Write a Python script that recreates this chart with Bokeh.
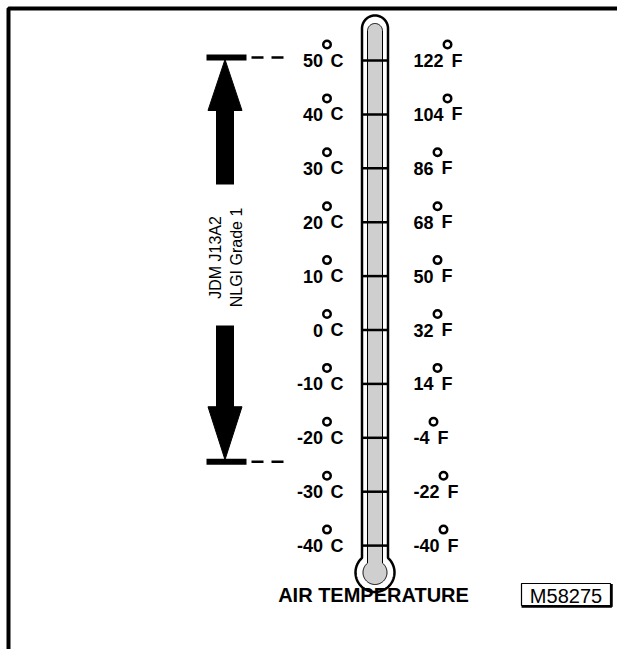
import numpy as np
from bokeh.plotting import figure
from bokeh.models import Range1d
from bokeh.core.properties import value
from bokeh.embed import file_html
from bokeh.resources import INLINE

# ---------------- data ----------------
celsius = [50, 40, 30, 20, 10, 0, -10, -20, -30, -40]
c_labels = ["50", "40", "30", "20", "10", "0", "-10", "-20", "-30", "-40"]
f_labels = ["122", "104", "86", "68", "50", "32", "14", "-4", "-22", "-40"]
range_top = 50      # grease usable range, upper limit (°C)
range_bottom = -25  # grease usable range, lower limit (°C)
grease_lines = ["JDM J13A2", "NLGI Grade 1"]
title_text = "AIR TEMPERATURE"
ref_code = "M58275"

# ---------------- layout helpers (figure px <-> °C) ----------------
S = 5.39      # px per degree C
Y50 = 60.0    # figure y of 50 °C
W, H = 617, 649


def c_at(py):
    return 50 - (py - Y50) / S


def dpx(px):
    return px / S


def py_of(c):
    return Y50 + (50 - c) * S


LABEL_FONT = value("Liberation Sans")
LFS = 18
SANS = value("Liberation Sans")

p = figure(width=W, height=H, x_range=Range1d(0, W),
           y_range=Range1d(c_at(H), c_at(0)),
           output_backend="svg", toolbar_location=None, min_border=0)
p.axis.visible = False
p.xgrid.visible = False
p.ygrid.visible = False
p.outline_line_color = None
p.background_fill_color = "white"
p.border_fill_color = "white"

# frame (top and left)
p.line(x=[8, 8, W], y=[c_at(H), c_at(8), c_at(8)],
       line_width=4, line_color="black")


# ---------------- thermometer ----------------
def therm_path(xc, hw, top_py, bulb_cy, r):
    cap_cy = top_py + hw
    dy = np.sqrt(r ** 2 - hw ** 2)
    join_py = bulb_cy - dy
    xs = [xc - hw, xc - hw]
    ys = [join_py, cap_cy]
    t = np.linspace(np.pi, 0, 40)
    xs += list(xc + hw * np.cos(t))
    ys += list(cap_cy - hw * np.sin(t))
    xs += [xc + hw]
    ys += [join_py]
    a_r = np.arctan2(-dy, hw)
    a_l = np.pi - a_r
    t2 = np.linspace(a_r, a_l, 80)
    xs += list(xc + r * np.cos(t2))
    ys += list(bulb_cy + r * np.sin(t2))
    return xs, [c_at(v) for v in ys]


XC = 374.5
ox, oy = therm_path(XC, 13, 15, 572, 19.5)
p.patch(ox, oy, fill_color="white", line_color="black", line_width=2.5)
ix, iy = therm_path(XC, 7.5, 23, 572, 12)
p.patch(ix, iy, fill_color="#cfcfcf", line_color="black", line_width=1)

# scale ticks across tube
p.segment(x0=[XC - 13] * len(celsius), x1=[XC + 13] * len(celsius),
          y0=celsius, y1=celsius, line_color="black", line_width=2.5)

# ---------------- celsius labels ----------------
RING_UP = dpx(16)
p.text(x=[322.5] * len(celsius), y=celsius, text=c_labels,
       text_font=LABEL_FONT, text_font_style="bold", text_font_size=f"{LFS}px",
       text_align="right", text_baseline="middle", text_color="black")
p.scatter(x=[326.5] * len(celsius), y=[c + RING_UP for c in celsius],
          marker="circle", size=7.5, fill_color="white", line_color="black",
          line_width=2.5)
p.text(x=[330] * len(celsius), y=celsius, text=["C"] * len(celsius),
       text_font=LABEL_FONT, text_font_style="bold", text_font_size=f"{LFS}px",
       text_align="left", text_baseline="middle", text_color="black")

# ---------------- fahrenheit labels ----------------
DW = 0.556 * LFS
MW = 0.333 * LFS


def lab_w(s):
    return sum(MW if ch == "-" else DW for ch in s)


fx = 413
ring_x = [fx + lab_w(s) + 4 for s in f_labels]
p.text(x=[fx] * len(celsius), y=celsius, text=f_labels,
       text_font=LABEL_FONT, text_font_style="bold", text_font_size=f"{LFS}px",
       text_align="left", text_baseline="middle", text_color="black")
p.scatter(x=ring_x, y=[c + RING_UP for c in celsius],
          marker="circle", size=7.5, fill_color="white", line_color="black",
          line_width=2.5)
p.text(x=[rx + 4 for rx in ring_x], y=celsius, text=["F"] * len(celsius),
       text_font=LABEL_FONT, text_font_style="bold", text_font_size=f"{LFS}px",
       text_align="left", text_baseline="middle", text_color="black")

# ---------------- range arrows ----------------
XA = 224.5
top_bar = range_top + dpx(3)
bot_bar = range_bottom + dpx(3)
p.segment(x0=[206, 206], x1=[246, 246], y0=[top_bar, bot_bar],
          y1=[top_bar, bot_bar], line_color="black", line_width=6)
p.segment(x0=[251, 251], x1=[287, 287], y0=[top_bar, bot_bar],
          y1=[top_bar, bot_bar], line_color="black", line_width=2.5,
          line_dash="12 8")

tp = py_of(top_bar)
p.patch([XA, XA - 17, XA + 17], [c_at(tp + 2), c_at(tp + 53), c_at(tp + 53)],
        fill_color="black", line_color="black", line_width=1)
p.quad(left=XA - 9, right=XA + 9, top=c_at(tp + 50), bottom=c_at(184),
       fill_color="black", line_color=None)

bp = py_of(bot_bar)
p.patch([XA, XA - 17, XA + 17], [c_at(bp - 2), c_at(bp - 55), c_at(bp - 55)],
        fill_color="black", line_color="black", line_width=1)
p.quad(left=XA - 9, right=XA + 9, top=c_at(325), bottom=c_at(bp - 52),
       fill_color="black", line_color=None)

mid_c = c_at(257)
p.text(x=[215, 236], y=[mid_c, mid_c], text=grease_lines, angle=np.pi / 2,
       text_font=SANS, text_font_size="16px", text_align="center",
       text_baseline="middle", text_color="black")

# ---------------- caption ----------------
p.text(x=[373], y=[c_at(594)], text=[title_text], text_font=SANS,
       text_font_style="bold", text_font_size="20px", text_align="center",
       text_baseline="middle", text_color="black")

BX0, BX1, BY0, BY1 = 521, 610, 583, 605
p.rect(x=[(BX0 + BX1) / 2], y=[c_at((BY0 + BY1) / 2)], width=BX1 - BX0,
       height=dpx(BY1 - BY0), fill_color=None, line_color="black", line_width=1.2)
p.line(x=[BX1 + 1, BX1 + 1, BX0], y=[c_at(BY0 + 0.5), c_at(BY1 + 1), c_at(BY1 + 1)],
       line_color="black", line_width=2.5)
p.text(x=[(BX0 + BX1) / 2], y=[c_at(595)], text=[ref_code], text_font=SANS,
       text_font_size="20px", text_align="center", text_baseline="middle",
       text_color="black")

open("out.html", "w").write(file_html(p, INLINE))
